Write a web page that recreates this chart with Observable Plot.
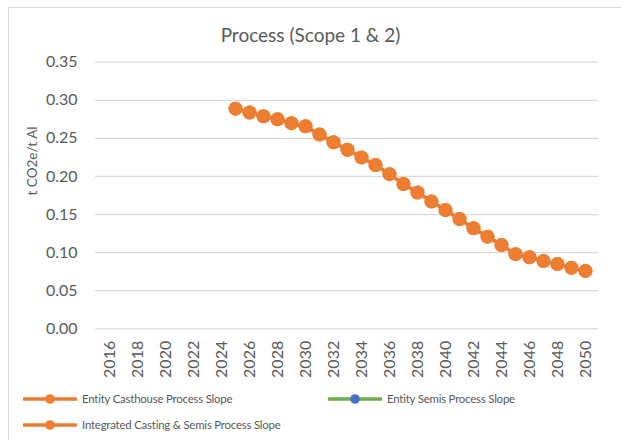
<!DOCTYPE html>
<html>
<head>
<meta charset="utf-8">
<script src="https://cdn.jsdelivr.net/npm/d3@7"></script>
<script src="https://cdn.jsdelivr.net/npm/@observablehq/plot@0.6"></script>
<style>
  html, body { margin: 0; padding: 0; background: #fff; }
  #wrap { position: relative; width: 621px; height: 440px; overflow: hidden; background: #fff; font-family: Lato, "Open Sans", sans-serif; color: #595959; }
  #frame { position: absolute; left: 8px; top: 7px; width: 700px; height: 500px; border: 1px solid #d9d9d9; box-sizing: border-box; }
  #chart { position: absolute; left: 0; top: 0; }
  #title { position: absolute; left: 0; width: 621px; text-align: center; font-size: 19px; line-height: 19px; top: 25px; }
  .leg { position: absolute; display: flex; align-items: center; font-size: 11.4px; letter-spacing: -0.2px; line-height: 14px; white-space: nowrap; }
  .leg svg { display: block; margin-right: 5px; }
</style>
</head>
<body>
<div id="wrap">
  <div id="frame"></div>
  <div id="chart"></div>
  <div id="title"></div>
  <div id="legend"></div>
</div>
<script>
// ---- data ----
const chartTitle = "Process (Scope 1 & 2)";
const yAxisTitle = "t CO2e/t Al";
const categories = [2016,2017,2018,2019,2020,2021,2022,2023,2024,2025,2026,2027,2028,2029,2030,2031,2032,2033,2034,2035,2036,2037,2038,2039,2040,2041,2042,2043,2044,2045,2046,2047,2048,2049,2050];
const xTickLabels = [2016,2018,2020,2022,2024,2026,2028,2030,2032,2034,2036,2038,2040,2042,2044,2046,2048,2050];
const yTickValues = [0,0.05,0.10,0.15,0.20,0.25,0.30,0.35];
const dataYears = [2025,2026,2027,2028,2029,2030,2031,2032,2033,2034,2035,2036,2037,2038,2039,2040,2041,2042,2043,2044,2045,2046,2047,2048,2049,2050];
const casthouseSlope = [0.289,0.284,0.279,0.275,0.270,0.266,0.255,0.245,0.235,0.225,0.215,0.203,0.190,0.179,0.167,0.156,0.144,0.132,0.121,0.110,0.098,0.094,0.089,0.085,0.080,0.076];
const semisSlope = [];
const integratedSlope = [0.289,0.284,0.279,0.275,0.270,0.266,0.255,0.245,0.235,0.225,0.215,0.203,0.190,0.179,0.167,0.156,0.144,0.132,0.121,0.110,0.098,0.094,0.089,0.085,0.080,0.076];
const seriesNames = ["Entity Casthouse Process Slope", "Entity Semis Process Slope", "Integrated Casting & Semis Process Slope"];
const seriesLine = ["#ED7D31", "#70AD47", "#ED7D31"];
const seriesMarker = ["#ED7D31", "#4472C4", "#ED7D31"];

// ---- build table ----
const seriesValues = [casthouseSlope, semisSlope, integratedSlope];
const rows = [];
seriesValues.forEach((vals, si) => {
  vals.forEach((v, i) => rows.push({series: seriesNames[si], year: dataYears[i], value: v}));
});

const marks = [
  Plot.gridY(yTickValues, {stroke: "#d9d9d9", strokeOpacity: 1, strokeWidth: 1.2}),
  Plot.axisY(yTickValues, {tickSize: 0, tickPadding: 18, tickFormat: d3.format(".2f"), fontSize: 16, label: null, fill: "#595959"}),
  Plot.axisX(xTickLabels, {tickSize: 0, tickPadding: 12, tickRotate: -90, fontSize: 16, label: null, fill: "#595959", tickFormat: d => String(d)}),
  Plot.text([yAxisTitle], {frameAnchor: "left", text: d => d, rotate: -90, dx: -63, fontSize: 13.5, fill: "#595959"})
];
seriesNames.forEach((name, si) => {
  const d = rows.filter(r => r.series === name);
  if (!d.length) return;
  marks.push(Plot.line(d, {x: "year", y: "value", stroke: seriesLine[si], strokeWidth: 3.5}));
  marks.push(Plot.dot(d, {x: "year", y: "value", r: 7, fill: seriesMarker[si], stroke: seriesMarker[si], strokeWidth: 0}));
});

const plot = Plot.plot({
  width: 621,
  height: 440,
  marginLeft: 95,
  marginRight: 23,
  marginTop: 61.7,
  marginBottom: 111.7,
  style: {background: "transparent", fontFamily: "Lato, 'Open Sans', sans-serif", color: "#595959"},
  x: {type: "point", domain: categories, padding: 0.5, axis: null},
  y: {domain: [0, 0.35], axis: null},
  marks
});
document.getElementById("chart").appendChild(plot);
document.getElementById("title").textContent = chartTitle;

// ---- legend ----
const legendPos = [[23, 399], [328, 399], [23, 425]];
const legend = document.getElementById("legend");
seriesNames.forEach((name, i) => {
  const div = document.createElement("div");
  div.className = "leg";
  div.style.left = legendPos[i][0] + "px";
  div.style.top = (legendPos[i][1] - 7) + "px";
  div.innerHTML = `<svg width="54" height="14"><line x1="1" y1="7" x2="53" y2="7" stroke="${seriesLine[i]}" stroke-width="3.5" stroke-linecap="round"/><circle cx="27" cy="7" r="4.8" fill="${seriesMarker[i]}"/></svg>`;
  const span = document.createElement("span");
  span.textContent = name;
  div.appendChild(span);
  legend.appendChild(div);
});
</script>
</body>
</html>
